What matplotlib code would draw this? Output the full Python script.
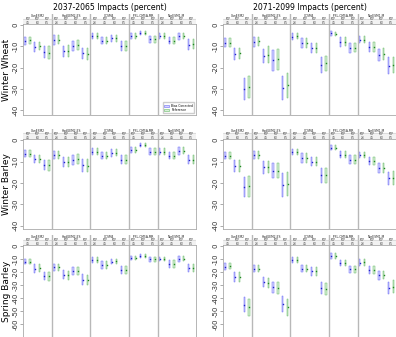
import numpy as np
import matplotlib
matplotlib.use('Agg')
import matplotlib.pyplot as plt
from matplotlib.patches import Patch

# --- data (percent change) ---
periods = ['2037-2065 Impacts (percent)', '2071-2099 Impacts (percent)']
crops = ['Winter Wheat', 'Winter Barley', 'Spring Barley']
gcms = ['CanESM2', 'HadGEM2-ES', 'CCSM4', 'IPSL-CM5A-MR', 'NorESM1-M']
gcm_ncols = [3, 4, 4, 3, 4]
rcp4 = ['RCP\n2.6', 'RCP\n4.5', 'RCP\n6.0', 'RCP\n8.5']
rcp3 = ['RCP\n4.5', 'RCP\n6.0', 'RCP\n8.5']
legend_labels = ['Bias Corrected', 'Reference']

# winter wheat, 2037-2065
ww1_blue_lo = [-9.4, -12.5, -15.6, -9.4, -14.8, -12.0, -16.0, -6.7, -9.0, -7.8, -12.0, -6.7, -4.7, -8.3, -6.7, -9.0, -7.0, -11.7]
ww1_blue_hi = [-5.8, -7.8, -10.0, -4.7, -9.8, -7.3, -10.6, -3.9, -5.5, -4.7, -7.3, -3.9, -2.7, -5.0, -3.6, -5.5, -3.6, -6.7]
ww1_green_lo = [-8.9, -11.7, -16.0, -9.0, -14.8, -11.7, -16.4, -6.7, -9.0, -7.8, -12.0, -6.7, -4.7, -8.3, -6.7, -9.0, -6.7, -11.4]
ww1_green_hi = [-5.5, -7.8, -10.0, -4.7, -9.4, -7.0, -10.6, -3.9, -5.5, -4.7, -7.3, -3.9, -2.7, -5.0, -3.6, -5.8, -3.6, -6.7]
# winter wheat, 2071-2099
ww2_blue_lo = [-10.2, -16.4, -35.0, -10.2, -18.0, -21.4, -35.0, -7.0, -10.6, -13.0, -22.3, -5.2, -10.2, -13.3, -8.6, -12.5, -16.7, -23.0]
ww2_blue_hi = [-6.2, -10.9, -25.0, -5.8, -11.0, -11.7, -24.0, -3.9, -6.2, -8.6, -14.8, -2.7, -5.8, -8.6, -5.2, -7.8, -11.4, -15.2]
ww2_green_lo = [-10.2, -16.0, -34.4, -9.9, -17.7, -21.0, -34.0, -6.7, -10.6, -13.0, -21.4, -5.2, -9.9, -12.8, -8.6, -12.5, -16.4, -22.3]
ww2_green_hi = [-6.2, -10.6, -24.0, -5.5, -10.0, -11.0, -22.3, -3.9, -6.2, -8.6, -14.5, -3.1, -5.8, -8.3, -5.2, -7.8, -10.9, -14.8]
# winter barley, 2037-2065
wb1_blue_lo = [-8.0, -10.9, -14.0, -9.0, -12.7, -11.6, -14.7, -7.0, -9.0, -7.8, -11.2, -5.9, -3.1, -7.0, -7.0, -9.0, -7.0, -11.2]
wb1_blue_hi = [-4.7, -7.0, -9.3, -5.0, -8.0, -7.0, -9.0, -3.9, -5.4, -4.3, -7.0, -3.4, -1.2, -3.9, -3.9, -5.4, -3.4, -7.0]
wb1_green_lo = [-8.0, -10.9, -14.3, -9.0, -12.7, -11.3, -15.0, -7.0, -9.0, -7.4, -11.2, -5.9, -3.1, -7.0, -7.0, -8.8, -6.5, -11.2]
wb1_green_hi = [-4.7, -7.0, -9.3, -5.0, -7.8, -6.7, -9.0, -3.9, -5.4, -4.3, -7.0, -3.4, -1.2, -3.9, -3.9, -5.7, -3.4, -7.0]
# winter barley, 2071-2099
wb2_blue_lo = [-9.0, -14.7, -26.4, -9.0, -15.8, -17.8, -26.4, -7.0, -10.5, -12.0, -19.8, -4.7, -8.5, -11.2, -8.5, -11.6, -15.5, -21.0]
wb2_blue_hi = [-5.4, -9.3, -17.0, -5.0, -9.6, -10.9, -15.2, -4.3, -6.2, -8.0, -13.2, -2.3, -5.0, -7.0, -5.4, -7.8, -10.5, -14.7]
wb2_green_lo = [-9.0, -14.7, -26.4, -9.0, -15.5, -17.8, -26.0, -7.0, -10.5, -12.0, -19.8, -4.7, -8.5, -11.2, -8.5, -11.6, -15.2, -21.0]
wb2_green_hi = [-5.4, -9.3, -16.7, -5.0, -9.6, -10.9, -14.7, -4.3, -6.2, -8.0, -13.2, -2.3, -5.0, -7.0, -5.4, -7.8, -10.5, -14.3]
# spring barley, 2037-2065
sb1_blue_lo = [-14.2, -20.4, -26.2, -19.3, -25.4, -22.4, -30.0, -12.7, -17.3, -14.2, -21.9, -10.9, -9.2, -12.2, -11.7, -16.8, -12.2, -19.8]
sb1_blue_hi = [-9.7, -14.2, -19.8, -13.5, -18.6, -16.0, -21.9, -8.7, -11.7, -10.2, -15.3, -7.6, -6.4, -8.4, -8.4, -10.9, -7.6, -13.5]
sb1_green_lo = [-14.2, -19.8, -27.0, -19.3, -26.2, -22.4, -30.0, -12.7, -17.3, -13.7, -21.9, -10.9, -8.9, -12.2, -11.7, -16.8, -11.7, -19.8]
sb1_green_hi = [-9.7, -14.2, -19.8, -13.5, -19.1, -16.0, -22.4, -8.7, -11.7, -9.7, -15.3, -7.6, -5.9, -8.4, -8.4, -10.9, -7.6, -13.5]
# spring barley, 2071-2099
sb2_blue_lo = [-18.4, -27.3, -51.0, -20.2, -31.6, -35.9, -51.0, -13.1, -20.2, -22.7, -36.6, -9.6, -15.2, -20.7, -15.7, -21.5, -25.8, -36.6]
sb2_blue_hi = [-13.4, -20.2, -39.0, -14.6, -24.0, -27.3, -38.4, -8.8, -14.6, -16.4, -27.8, -5.6, -10.6, -15.2, -10.1, -15.2, -18.9, -27.3]
sb2_green_lo = [-17.9, -27.3, -53.5, -20.2, -32.3, -36.6, -53.5, -13.1, -20.2, -22.7, -37.4, -9.6, -15.2, -20.7, -15.2, -21.5, -25.3, -35.9]
sb2_green_hi = [-12.9, -20.2, -41.0, -14.6, -24.7, -27.8, -40.4, -8.8, -14.6, -16.4, -28.3, -5.6, -10.6, -15.2, -10.1, -15.2, -18.9, -26.5]

panels = [
    [(ww1_blue_lo, ww1_blue_hi, ww1_green_lo, ww1_green_hi), (ww2_blue_lo, ww2_blue_hi, ww2_green_lo, ww2_green_hi)],
    [(wb1_blue_lo, wb1_blue_hi, wb1_green_lo, wb1_green_hi), (wb2_blue_lo, wb2_blue_hi, wb2_green_lo, wb2_green_hi)],
    [(sb1_blue_lo, sb1_blue_hi, sb1_green_lo, sb1_green_hi), (sb2_blue_lo, sb2_blue_hi, sb2_green_lo, sb2_green_hi)],
]
row_ticks = [[0, -10, -20, -30, -40], [0, -10, -20, -30, -40], [0, -10, -20, -30, -40, -50, -60]]
row_ylim = [(-42.2, 0.5), (-41.5, 0.5), (-70, 0.8)]

W, H = 396, 337
fig = plt.figure(figsize=(W / 100, H / 100), dpi=100)

col_x = [23, 223]
col_w = 173
row_top = [24, 139, 245]
row_bot = [115, 229, 337]
head_h = 10

blue_edge, blue_fill = '#6a6af5', '#d4d4ff'
green_edge, green_fill = '#66b866', '#d8f0d8'
sep_col = '#b8b8b8'

bounds = np.cumsum([0] + gcm_ncols)
ncol = bounds[-1]
sub_labels = []
for n in gcm_ncols:
    sub_labels += rcp4 if n == 4 else rcp3

for r in range(3):
    for c in range(2):
        x0 = col_x[c] / W
        ax = fig.add_axes([x0, 1 - row_bot[r] / H, col_w / W, (row_bot[r] - row_top[r]) / H])
        hx = fig.add_axes([x0, 1 - row_top[r] / H, col_w / W, head_h / H], sharex=ax)
        blo, bhi, glo, ghi = [np.array(a) for a in panels[r][c]]
        xs = np.arange(ncol)
        ax.bar(xs + 0.22, bhi - blo, bottom=blo, width=0.14, color=blue_fill,
               edgecolor=blue_edge, linewidth=0.35)
        ax.bar(xs + 0.72, ghi - glo, bottom=glo, width=0.14, color=green_fill,
               edgecolor=green_edge, linewidth=0.35)
        ax.plot(xs + 0.22, (blo + bhi) / 2, 's', ms=1.0, color='#2222cc', mew=0)
        ax.plot(xs + 0.72, (glo + ghi) / 2, 's', ms=1.0, color='#228822', mew=0)
        for b in bounds[1:-1]:
            ax.axvline(b, color=sep_col, lw=1.0)
            hx.axvline(b, color=sep_col, lw=1.0)
        ax.set_xlim(0, ncol)
        ax.set_ylim(*row_ylim[r])
        ax.set_yticks(row_ticks[r])
        ax.set_yticklabels([str(t) for t in row_ticks[r]], rotation=90, va='center', fontsize=5, color='#333333')
        ax.tick_params(axis='y', length=2, width=0.5, pad=1, color='#888888')
        ax.tick_params(axis='x', bottom=False, labelbottom=False)
        for s in ax.spines.values():
            s.set_color('#aaaaaa')
            s.set_linewidth(0.6)

        hx.set_ylim(0, 1)
        hx.axis('off')
        hx.axhspan(0, 0.55, color='#f2f2f2', zorder=0)
        hx.axhline(0.55, color='#cccccc', lw=0.4)
        for k in range(ncol):
            hx.text(k + 0.5, 0.27, sub_labels[k], ha='center', va='center', fontsize=1.8,
                    linespacing=0.9, color='#333333')
        for g, name in enumerate(gcms):
            hx.text((bounds[g] + bounds[g + 1]) / 2, 0.8, name, ha='center', va='center',
                    fontsize=2.2, color='#222222')

        if r == 0 and c == 0:
            handles = [Patch(facecolor=blue_fill, edgecolor=blue_edge, lw=0.4),
                       Patch(facecolor=green_fill, edgecolor=green_edge, lw=0.4)]
            ax.legend(handles, legend_labels, loc='lower right', fontsize=2.2, frameon=True,
                      handlelength=1.5, handleheight=0.6, borderpad=0.4, labelspacing=0.2,
                      fancybox=False, edgecolor='#cccccc', framealpha=1)

for c in range(2):
    fig.text((col_x[c] + col_w / 2) / W, 1 - 7 / H, periods[c], ha='center', va='center', fontsize=5.6)
for r in range(3):
    fig.text(7 / W, 1 - (row_top[r] + row_bot[r]) / 2 / H, crops[r], rotation=90,
             ha='center', va='center', fontsize=6.5)

fig.savefig('out.png', dpi=100)
